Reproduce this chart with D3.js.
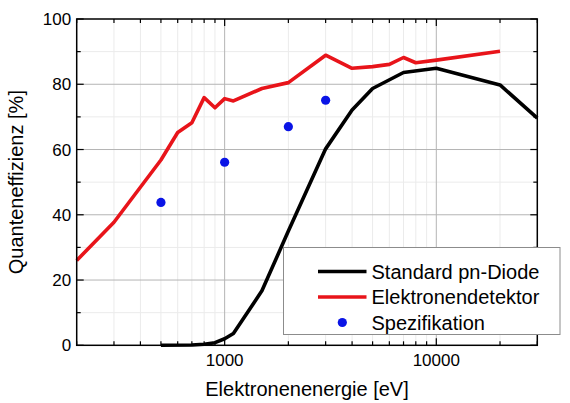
<!DOCTYPE html>
<html><head><meta charset="utf-8">
<script src="https://cdn.jsdelivr.net/npm/d3@7"></script>
<style>body{margin:0;background:#fff}svg{display:block;font-family:"Liberation Sans",Arial,sans-serif}</style>
</head><body>
<script>
const diodeE = [500, 700, 800, 900, 1000, 1100, 1500, 2000, 3000, 4000, 5000, 7000, 10000, 20000, 30000];
const diodeQ = [0, 0.1, 0.3, 0.8, 2, 3.6, 16.7, 35, 60.2, 72.1, 78.7, 83.6, 84.9, 79.8, 69.6];
const detE = [200, 300, 500, 600, 700, 800, 900, 1000, 1100, 1500, 2000, 3000, 4000, 5000, 6000, 7000, 8000, 10000, 20000];
const detQ = [26, 37.7, 56.8, 65.2, 68.2, 75.9, 72.8, 75.6, 74.9, 78.7, 80.5, 88.9, 84.9, 85.4, 86.1, 88.2, 86.6, 87.4, 90.1];
const specE = [500, 1000, 2000, 3000];
const specQ = [43.8, 56.1, 67, 75.1];
const xMajor = [1000, 10000];
const yTicks = [0, 20, 40, 60, 80, 100];
const labels = {x: "Elektronenenergie [eV]", y: "Quanteneffizienz [%]",
  series: ["Standard pn-Diode", "Elektronendetektor", "Spezifikation"]};

const W = 570, H = 403;
const m = {l: 76.7, t: 19, r: W - 537.3, b: H - 345.3};
const svg = d3.select("body").append("svg").attr("width", W).attr("height", H);
const x = d3.scaleLog().domain([200, 30000]).range([m.l, W - m.r]);
const y = d3.scaleLinear().domain([0, 100]).range([H - m.b, m.t]);

const xMinor = [];
for (let d = 100; d <= 10000; d *= 10) for (let k = 2; k <= 9; k++) { const v = k * d; if (v >= 200 && v <= 30000) xMinor.push(v); }
const yMinor = d3.range(10, 100, 20);

const g = svg.append("g");
// minor grid
g.selectAll(".xm").data(xMinor).join("line").attr("x1", d => x(d)).attr("x2", d => x(d))
  .attr("y1", y(0)).attr("y2", y(100)).attr("stroke", "#ebebeb").attr("stroke-width", 1);
g.selectAll(".ym").data(yMinor).join("line").attr("y1", d => y(d)).attr("y2", d => y(d))
  .attr("x1", x(200)).attr("x2", x(30000)).attr("stroke", "#ebebeb").attr("stroke-width", 1);
// major grid
g.selectAll(".xM").data(xMajor).join("line").attr("x1", d => x(d)).attr("x2", d => x(d))
  .attr("y1", y(0)).attr("y2", y(100)).attr("stroke", "#b4b4b4").attr("stroke-width", 1);
g.selectAll(".yM").data(yTicks.slice(1, -1)).join("line").attr("y1", d => y(d)).attr("y2", d => y(d))
  .attr("x1", x(200)).attr("x2", x(30000)).attr("stroke", "#b4b4b4").attr("stroke-width", 1);

// lines
const line = d3.line().x(d => x(d[0])).y(d => y(d[1]));
svg.append("path").datum(diodeE.map((e, i) => [e, diodeQ[i]])).attr("d", line)
  .attr("fill", "none").attr("stroke", "#000").attr("stroke-width", 3.6).attr("stroke-linejoin", "round");
svg.append("path").datum(detE.map((e, i) => [e, detQ[i]])).attr("d", line)
  .attr("fill", "none").attr("stroke", "#e8141a").attr("stroke-width", 3.6).attr("stroke-linejoin", "round");
svg.selectAll(".spec").data(specE.map((e, i) => [e, specQ[i]])).join("circle")
  .attr("cx", d => x(d[0])).attr("cy", d => y(d[1])).attr("r", 4.6).attr("fill", "#0a14e6");

// axes ticks (inward)
const ax = svg.append("g").attr("stroke", "#000").attr("stroke-width", 1.2);
[y(0), y(100)].forEach((yy, j) => {
  const dir = j === 0 ? -1 : 1;
  ax.selectAll(null).data(xMinor).join("line").attr("x1", d => x(d)).attr("x2", d => x(d))
    .attr("y1", yy).attr("y2", yy + dir * 4);
  ax.selectAll(null).data(xMajor).join("line").attr("x1", d => x(d)).attr("x2", d => x(d))
    .attr("y1", yy).attr("y2", yy + dir * 7);
});
[x(200), x(30000)].forEach((xx, j) => {
  const dir = j === 0 ? 1 : -1;
  ax.selectAll(null).data(yMinor).join("line").attr("y1", d => y(d)).attr("y2", d => y(d))
    .attr("x1", xx).attr("x2", xx + dir * 4);
  ax.selectAll(null).data(yTicks).join("line").attr("y1", d => y(d)).attr("y2", d => y(d))
    .attr("x1", xx).attr("x2", xx + dir * 7);
});
svg.append("rect").attr("x", x(200)).attr("y", y(100)).attr("width", x(30000) - x(200))
  .attr("height", y(0) - y(100)).attr("fill", "none").attr("stroke", "#000").attr("stroke-width", 1.5);

// tick labels
svg.selectAll(".yl").data(yTicks).join("text").attr("x", m.l - 5.5).attr("y", d => y(d))
  .attr("dy", "0.36em").attr("text-anchor", "end").attr("font-size", 17).text(d => d);
svg.selectAll(".xl").data(xMajor).join("text").attr("x", d => x(d)).attr("y", 366)
  .attr("text-anchor", "middle").attr("font-size", 17).text(d => d);

// titles
svg.append("text").attr("x", x(200) + (x(30000) - x(200)) / 2 - 0).attr("y", 396)
  .attr("text-anchor", "middle").attr("font-size", 20).text(labels.x);
svg.append("text").attr("transform", `translate(23,${(y(0) + y(100)) / 2}) rotate(-90)`)
  .attr("text-anchor", "middle").attr("font-size", 20).text(labels.y);

// legend
const lg = svg.append("g");
lg.append("rect").attr("x", 283.5).attr("y", 247.5).attr("width", 276.5).attr("height", 87)
  .attr("fill", "#fff").attr("stroke", "#8c8c8c").attr("stroke-width", 1);
const rows = [271.5, 297, 322.5];
lg.append("line").attr("x1", 318).attr("x2", 366.5).attr("y1", rows[0]).attr("y2", rows[0])
  .attr("stroke", "#000").attr("stroke-width", 3.6);
lg.append("line").attr("x1", 318).attr("x2", 366.5).attr("y1", rows[1]).attr("y2", rows[1])
  .attr("stroke", "#e8141a").attr("stroke-width", 3.6);
lg.append("circle").attr("cx", 342.3).attr("cy", rows[2]).attr("r", 4.6).attr("fill", "#0a14e6");
labels.series.forEach((s, i) => {
  lg.append("text").attr("x", 371.5).attr("y", rows[i]).attr("dy", "0.36em")
    .attr("font-size", 20).text(s);
});
</script>
</body></html>
